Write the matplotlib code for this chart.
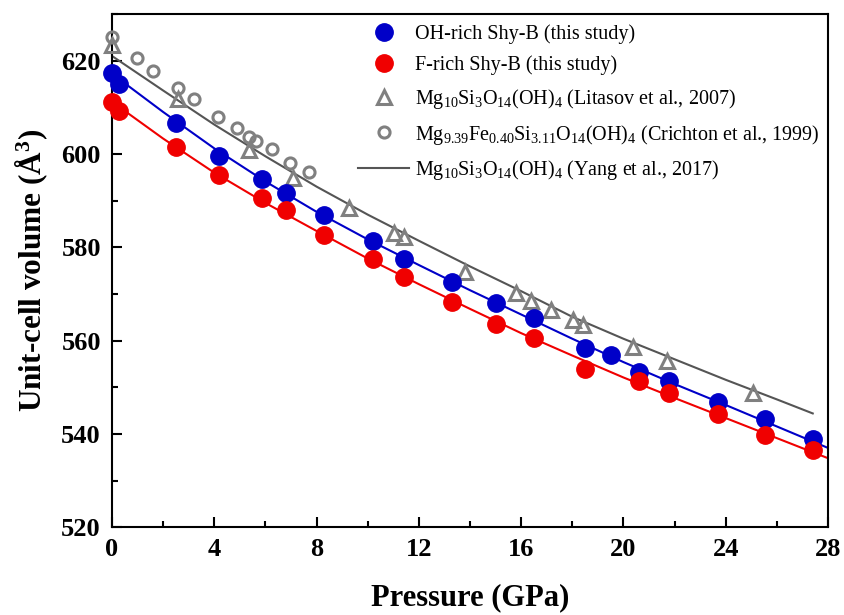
import matplotlib
matplotlib.use("Agg")
import matplotlib.pyplot as plt
from matplotlib.ticker import MultipleLocator

# OH-rich Shy-B (this study)
oh_p = [0.0, 0.29, 2.5, 4.2, 5.85, 6.8, 8.3, 10.22, 11.42, 13.3, 15.01, 16.51,
        18.5, 19.5, 20.62, 21.79, 23.7, 25.53, 27.42]
oh_v = [617.3, 615.0, 606.6, 599.6, 594.6, 591.7, 586.9, 581.3, 577.4, 572.5, 568.0, 564.9,
        558.5, 556.9, 553.3, 551.3, 546.8, 543.2, 538.9]

# F-rich Shy-B (this study)
f_p = [0.0, 0.29, 2.5, 4.2, 5.85, 6.8, 8.3, 10.22, 11.42, 13.3, 15.01, 16.51,
       18.5, 20.62, 21.79, 23.7, 25.53, 27.42]
f_v = [611.2, 609.2, 601.4, 595.5, 590.5, 588.0, 582.6, 577.4, 573.6, 568.3, 563.6, 560.6,
       553.9, 551.4, 548.8, 544.2, 539.8, 536.6]

# Litasov et al., 2007
lit_p = [0.0, 2.6, 5.35, 7.09, 9.28, 11.04, 11.42, 13.8, 15.8, 16.4, 17.17, 18.04,
         18.43, 20.39, 21.7, 25.08]
lit_v = [623.3, 611.7, 600.9, 594.8, 588.4, 583.0, 582.1, 574.8, 570.1, 568.5, 566.6, 564.4,
         563.3, 558.6, 555.7, 548.7]

# Crichton et al., 1999
cri_p = [0.0, 0.99, 1.62, 2.6, 3.2, 4.15, 4.87, 5.36, 5.63, 6.24, 6.98, 7.72]
cri_v = [625.0, 620.5, 617.8, 614.1, 611.7, 608.0, 605.5, 603.6, 602.8, 601.0, 598.1, 596.1]

# fitted EOS curves
fit_p = [0, 2, 4, 6, 8, 10, 12, 14, 16, 18, 20, 22, 24, 26, 28]
oh_fit = [617.2, 609.0, 601.2, 594.1, 587.6, 581.7, 576.2, 570.8, 565.6, 560.4,
          555.4, 550.7, 546.2, 541.6, 537.0]
f_fit = [611.2, 603.3, 596.0, 589.5, 583.5, 577.6, 572.1, 566.8, 561.6, 556.8,
         552.1, 547.7, 543.4, 539.1, 534.8]

# Yang et al., 2017
yang_p = [0, 2, 4, 6, 8, 10, 12, 14, 16, 18, 20, 22, 24, 26, 27.4]
yang_v = [621.0, 613.6, 606.3, 599.5, 593.0, 587.0, 581.4, 575.9, 570.6, 565.1,
          560.4, 556.0, 551.6, 547.4, 544.4]

BLUE = "#0000c8"
RED = "#f00000"
GRAY = "#808080"
DARK = "#555555"


def main():
    plt.rcParams["font.family"] = ["Liberation Serif", "DejaVu Serif"]
    plt.rcParams["mathtext.fontset"] = "custom"
    plt.rcParams["mathtext.rm"] = "Liberation Serif"
    plt.rcParams["mathtext.it"] = "Liberation Serif:italic"
    plt.rcParams["mathtext.bf"] = "Liberation Serif:bold"

    fig = plt.figure(figsize=(8.45, 6.15), dpi=100)
    ax = fig.add_axes([0.1325, 0.1426, 0.8475, 0.8347])

    ax.plot(yang_p, yang_v, color=DARK, lw=1.5,
            label=r"Mg$_{10}$Si$_3$O$_{14}$(OH)$_4$ (Yang et al., 2017)", zorder=2)
    ax.plot(fit_p, oh_fit, color=BLUE, lw=1.5, zorder=2)
    ax.plot(fit_p, f_fit, color=RED, lw=1.5, zorder=2)

    ax.plot(lit_p, lit_v, ls="none", marker="^", ms=10, mfc="none", mec=GRAY, mew=2.2,
            label=r"Mg$_{10}$Si$_3$O$_{14}$(OH)$_4$ (Litasov et al., 2007)", zorder=3, clip_on=False)
    ax.plot(cri_p, cri_v, ls="none", marker="o", ms=8, mfc="none", mec=GRAY, mew=2.2,
            label=r"Mg$_{9.39}$Fe$_{0.40}$Si$_{3.11}$O$_{14}$(OH)$_4$ (Crichton et al., 1999)",
            zorder=3, clip_on=False)
    ax.plot(oh_p, oh_v, ls="none", marker="o", ms=12.5, color=BLUE,
            label="OH-rich Shy-B (this study)", zorder=4, clip_on=False)
    ax.plot(f_p, f_v, ls="none", marker="o", ms=12.5, color=RED,
            label="F-rich Shy-B (this study)", zorder=4, clip_on=False)

    ax.set_xlim(0, 28)
    ax.set_ylim(520, 630)
    ax.xaxis.set_major_locator(MultipleLocator(4))
    ax.xaxis.set_minor_locator(MultipleLocator(2))
    ax.yaxis.set_major_locator(MultipleLocator(20))
    ax.yaxis.set_minor_locator(MultipleLocator(10))
    ax.tick_params(which="both", direction="in", width=1.5, top=False, right=False)
    ax.tick_params(which="major", length=7, labelsize=19, pad=8)
    ax.tick_params(which="minor", length=4)
    for lab in ax.get_xticklabels() + ax.get_yticklabels():
        lab.set_fontweight("bold")
    for s in ax.spines.values():
        s.set_linewidth(1.5)

    ax.set_xlabel("Pressure (GPa)", fontsize=22, fontweight="bold", labelpad=16)
    ax.set_ylabel(r"Unit-cell volume (Å$^{\mathbf{3}}$)", fontsize=22.5, fontweight="bold", labelpad=8)

    h, l = ax.get_legend_handles_labels()
    order = [3, 4, 1, 2, 0]
    ax.legend([h[i] for i in order], [l[i] for i in order], loc="upper left",
              bbox_to_anchor=(0.33, 1.0), frameon=False, fontsize=14.5,
              handlelength=2.5, handletextpad=0.3, labelspacing=0.58, borderaxespad=0.1)

    fig.savefig("out.png", dpi=100)


if __name__ == "__main__":
    main()
